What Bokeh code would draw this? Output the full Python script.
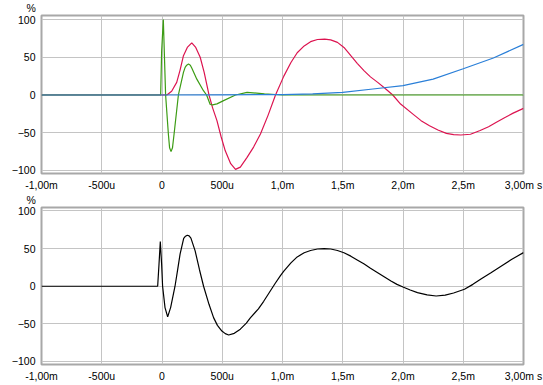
from bokeh.plotting import figure
from bokeh.layouts import column
from bokeh.models import FixedTicker
from bokeh.embed import file_html
from bokeh.resources import INLINE

# ---- data (time in ms, values in %) ----
x_ticks = [-1.0, -0.5, 0.0, 0.5, 1.0, 1.5, 2.0, 2.5, 3.0]
x_labels = ["-1,00m", "-500u", "0", "500u", "1,0m", "1,5m", "2,0m", "2,5m", "3,00m s"]
y_ticks = [-100, -50, 0, 50, 100]
y_unit = "%"

red_t = [-1.0, 0.04, 0.08, 0.122, 0.15, 0.178, 0.21, 0.247, 0.28, 0.317, 0.35, 0.39,
         0.42, 0.456, 0.49, 0.525, 0.57, 0.61, 0.65, 0.706, 0.76, 0.817, 0.88, 0.942,
         1.011, 1.07, 1.122, 1.18, 1.233, 1.29, 1.35, 1.4, 1.456, 1.51, 1.567, 1.62,
         1.678, 1.73, 1.79, 1.85, 1.915, 1.98, 2.08, 2.15, 2.22, 2.29, 2.36, 2.42, 2.48,
         2.56, 2.64, 2.71, 2.775, 2.85, 2.914, 3.0]
red_v = [0, 0, 5, 16.7, 33, 52, 63, 69, 63, 50, 30, 0,
         -17, -34, -55, -74, -91, -98.5, -95.5, -82.6, -69, -51.7, -27, 0,
         25, 43, 56, 65, 70.6, 73.5, 74, 73, 69.7, 63, 52, 42,
         32, 24, 16.7, 9, 0, -12, -25, -34, -40.7, -46.4, -50.8, -52.5, -53,
         -52, -47, -42, -36, -29.6, -24, -17.7]

green_t = [-1.0, -0.011, -0.003, 0.011, 0.03, 0.053, 0.063, 0.075, 0.087, 0.1, 0.136,
           0.178, 0.192, 0.205, 0.22, 0.235, 0.247, 0.289, 0.344, 0.37, 0.4, 0.42,
           0.456, 0.511, 0.61, 0.706, 0.85, 1.0, 3.0]
green_v = [0, 0, 58, 100, 0, -52, -70, -75, -70, -52, 0,
           30, 36.6, 39.5, 41, 39.5, 35.8, 21, 5.7, 0, -12.6, -13,
           -11.8, -7.5, 0, 3.5, 1.5, 0, 0]

blue_t = [-1.0, 0.0, 0.5, 1.0, 1.25, 1.5, 1.75, 2.0, 2.25, 2.5, 2.75, 3.0]
blue_v = [0, 0, 0.2, 0.5, 1.5, 3.5, 7.9, 12.3, 21, 34.7, 49, 67]

sum_t = [-1.0, -0.036, -0.025, -0.014, -0.003, 0.005, 0.025, 0.047, 0.072, 0.108,
         0.13, 0.15, 0.18, 0.195, 0.21, 0.225, 0.24, 0.275, 0.31, 0.345, 0.39, 0.428,
         0.46, 0.497, 0.525, 0.553, 0.6, 0.65, 0.7, 0.733, 0.8, 0.844, 0.9, 0.94,
         0.983, 1.011, 1.07, 1.122, 1.18, 1.233, 1.29, 1.345, 1.4, 1.456, 1.51, 1.567,
         1.62, 1.678, 1.73, 1.79, 1.85, 1.9, 1.95, 2.0, 2.06, 2.12, 2.2, 2.275, 2.35,
         2.42, 2.51, 2.58, 2.65, 2.73, 2.817, 2.9, 3.0]
sum_v = [0, 0, 29, 59.4, 29, 0, -28.4, -40.8, -28, 0,
         22, 42.6, 63.5, 66.5, 67.8, 67, 64, 47, 22.6, 0, -24, -41.7,
         -52, -59.5, -63, -64.8, -62.6, -57, -49, -42, -30, -20, -6, 4,
         14, 20, 31, 39, 44.5, 47.5, 49.5, 50, 49.5, 47.5, 44.5, 40,
         35, 29.5, 24, 18, 12, 7, 2.5, -1, -5, -8.5, -11.5, -13, -11.8,
         -9, -4, 2.5, 10, 18, 27, 35.5, 44.7]

FONT = "Liberation Sans"
FSIZE = "10.5px"


def make_fig(height, top, bottom, frame_h, y_lo, y_hi):
    p = figure(frame_width=482, frame_height=frame_h, height=height, width=543,
               x_range=(-1.0, 3.0), y_range=(y_lo, y_hi),
               output_backend="svg", toolbar_location=None,
               min_border_left=41, min_border_right=20,
               min_border_top=top, min_border_bottom=bottom,
               background_fill_color="white", border_fill_color="white",
               title=y_unit)
    p.title.align = "left"
    p.title.offset = -15
    p.title.standoff = 0
    p.title.vertical_align = "top"
    p.title.text_font = FONT
    p.title.text_font_size = FSIZE
    p.title.text_font_style = "normal"
    p.title.text_color = "#000000"
    p.xaxis.ticker = FixedTicker(ticks=x_ticks)
    p.yaxis.ticker = FixedTicker(ticks=y_ticks)
    p.xaxis.major_label_overrides = {t: s for t, s in zip(x_ticks, x_labels)}
    for ax in (p.xaxis, p.yaxis):
        ax.axis_line_color = None
        ax.major_tick_line_color = None
        ax.minor_tick_line_color = None
        ax.major_tick_out = 0
        ax.major_tick_in = 0
        ax.minor_tick_out = 0
        ax.minor_tick_in = 0
        ax.major_label_text_font = FONT
        ax.major_label_text_font_size = FSIZE
        ax.major_label_text_color = "#000000"
    p.xaxis.major_label_standoff = 5
    p.yaxis.major_label_standoff = 6
    for g in (p.xgrid, p.ygrid):
        g.grid_line_color = "#c4c4c4"
        g.grid_line_width = 1
    p.outline_line_color = "#a8a8a8"
    p.outline_line_width = 2
    return p


p1 = make_fig(193, 15, 20, 158, -104, 105.3)
p1.line(red_t, red_v, line_color="#dc1450", line_width=1.2)
p1.line(green_t, green_v, line_color="#3c9c14", line_width=1.2)
p1.line(blue_t, blue_v, line_color="#2a7fd8", line_width=1.2)

p2 = make_fig(191, 14, 20, 157, -104, 104.65)
p2.line(sum_t, sum_v, line_color="#000000", line_width=1.2)

layout = column(p1, p2, spacing=0)
open("out.html", "w").write(file_html(layout, INLINE))
